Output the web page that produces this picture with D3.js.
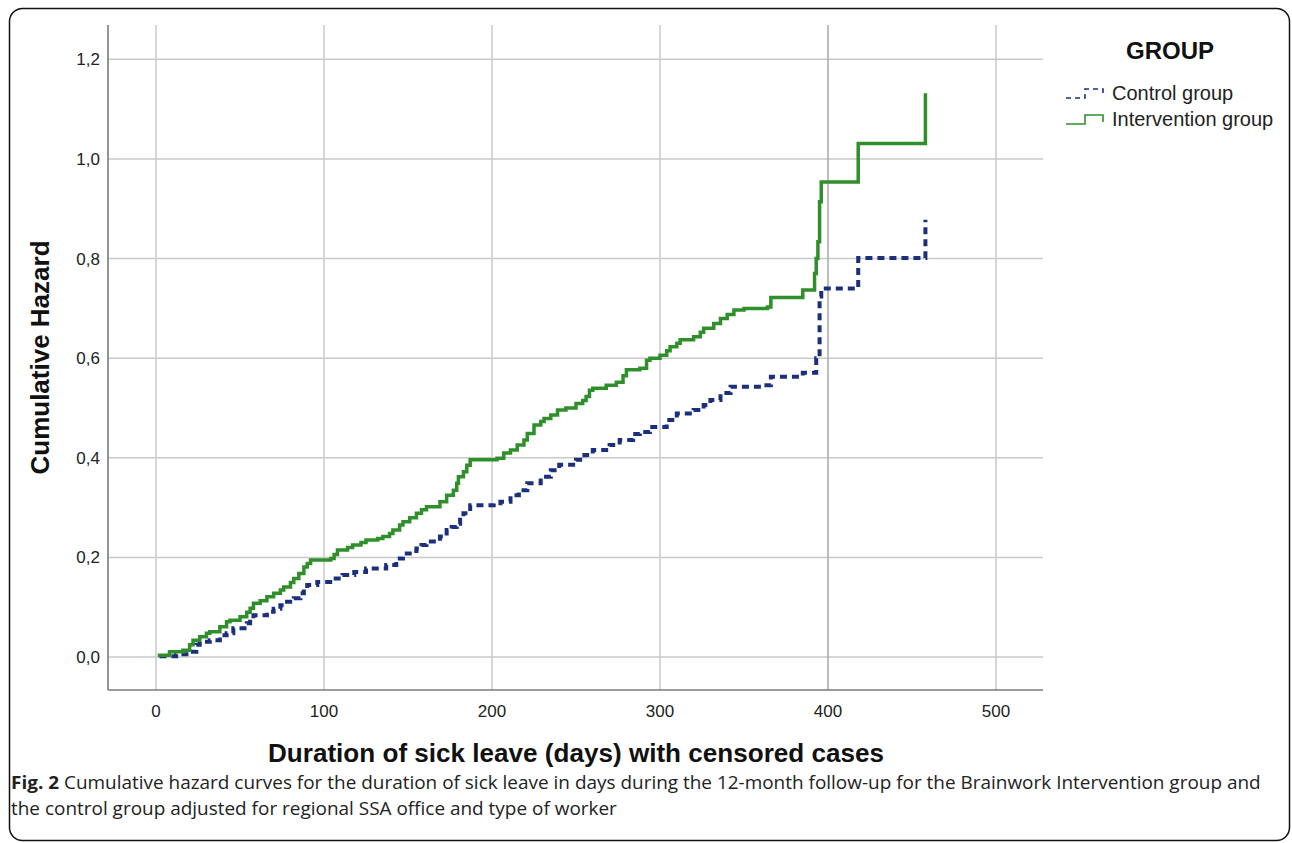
<!DOCTYPE html>
<html>

<head>
    <meta charset="utf-8">
    <style>
        body {
            margin: 0;
            background: #fff;
        }

        svg {
            display: block;
            font-family: Arial, "Liberation Sans", sans-serif;
        }

        .grid line {
            stroke: #c9c9c9;
            stroke-width: 1.5;
        }

        .tick-label {
            font-size: 17px;
            fill: #222;
        }

        .axis-title {
            font-size: 26px;
            font-weight: bold;
            fill: #111;
        }

        .legend-title {
            font-size: 24px;
            font-weight: bold;
            fill: #111;
        }

        .legend-label {
            font-size: 20px;
            fill: #222;
        }

        .caption {
            font-family: "Open Sans", sans-serif;
            font-size: 18px;
            fill: #222;
        }
    </style>
</head>

<body>
    <svg width="1292" height="843"></svg>

    <script src="https://d3js.org/d3.v7.min.js"></script>
    <script>
        // ---- data ----
        let xTicks = [0, 100, 200, 300, 400, 500]
        let yTicks = [0, 0.2, 0.4, 0.6, 0.8, 1.0, 1.2]

        let groups = ["Control group", "Intervention group"]

        // step points: day, cumulative hazard (value holds from that day on)
        let controlDays = [2, 12, 20, 24, 26, 32, 38, 42, 46, 54, 56, 58, 66, 70, 74, 78, 82, 86, 88, 90,
            96, 105, 111, 118, 125, 137, 143, 147, 151, 155, 158, 161, 169, 173, 176, 179, 181, 183, 187,
            201, 205, 211, 216, 221, 229, 235, 240, 250, 255, 260, 270, 276, 284, 288, 294, 304, 310,
            320, 326, 330, 336, 342, 361, 366, 385, 393, 395, 396, 418, 458]
        let controlHazard = [0.002, 0.006, 0.011, 0.025, 0.031, 0.034, 0.044, 0.048, 0.058, 0.068, 0.076,
            0.084, 0.091, 0.097, 0.104, 0.111, 0.118, 0.128, 0.136, 0.145,
            0.151, 0.158, 0.165, 0.171, 0.178, 0.185, 0.198, 0.208, 0.213, 0.218, 0.225, 0.232, 0.242,
            0.255, 0.261, 0.268, 0.280, 0.289, 0.305,
            0.309, 0.312, 0.325, 0.335, 0.349, 0.362, 0.375, 0.386, 0.396, 0.406, 0.416, 0.426, 0.436,
            0.448, 0.452, 0.462, 0.476, 0.489,
            0.496, 0.506, 0.516, 0.530, 0.543, 0.546, 0.563, 0.571, 0.600, 0.724, 0.740, 0.801, 0.878]

        let interventionDays = [1, 8, 16, 20, 22, 26, 30, 32, 38, 42, 44, 50, 54, 56, 58, 62, 66, 70, 74,
            76, 80, 82, 85, 88, 90, 92, 104, 106, 108, 114, 117, 122, 125, 132, 135, 139, 141, 145, 147,
            151, 155, 158, 161, 169, 173, 177, 179, 180, 183, 185, 187, 203, 207, 211, 215, 219, 221,
            225, 229, 231, 235, 239, 244, 250, 254, 256, 258, 260, 268, 274, 278, 280, 288, 292, 294,
            300, 304, 306, 310, 312, 320, 324, 326, 332, 336, 340, 344, 350, 364, 366, 385, 392, 393,
            394, 395, 396, 418, 458]
        let interventionHazard = [0.004, 0.011, 0.014, 0.025, 0.034, 0.041, 0.048, 0.051, 0.061, 0.071,
            0.074, 0.081, 0.090, 0.098, 0.108, 0.113, 0.121, 0.128, 0.135,
            0.141, 0.150, 0.158, 0.168, 0.181, 0.188, 0.195, 0.198, 0.206, 0.215, 0.220, 0.225, 0.230,
            0.235, 0.238, 0.242, 0.248, 0.255, 0.265, 0.272,
            0.280, 0.289, 0.296, 0.302, 0.312, 0.325, 0.335, 0.349, 0.362, 0.372, 0.385, 0.396, 0.399,
            0.410, 0.416, 0.426, 0.436, 0.449,
            0.466, 0.473, 0.479, 0.486, 0.496, 0.500, 0.509, 0.515, 0.523, 0.536, 0.540, 0.546, 0.552,
            0.565, 0.577, 0.580, 0.596, 0.600,
            0.606, 0.615, 0.623, 0.630, 0.637, 0.643, 0.652, 0.660, 0.670, 0.680, 0.688, 0.697, 0.700,
            0.703, 0.722, 0.737, 0.770, 0.800,
            0.834, 0.914, 0.954, 1.031, 1.132]

        let colors = ["#1c2f7c", "#2f8f2a"]

        // ---- layout ----
        let svg = d3.select("svg")

        let plot = { left: 108, right: 1043, top: 25, bottom: 690 }

        let x = d3.scaleLinear()
            .domain([-28.6, 528])
            .range([plot.left, plot.right])

        let y = d3.scaleLinear()
            .domain([-0.066, 1.269])
            .range([plot.bottom, plot.top])

        let commaFmt = d => d3.format(".1f")(d).replace(".", ",")

        // outer rounded frame
        svg.append("rect")
            .attr("x", 9.5)
            .attr("y", 8.5)
            .attr("width", 1280)
            .attr("height", 832)
            .attr("rx", 13)
            .attr("fill", "none")
            .attr("stroke", "#111")
            .attr("stroke-width", 1.5)

        // grid
        let grid = svg.append("g").attr("class", "grid")

        grid.selectAll(".hgrid")
            .data(yTicks)
            .join("line")
            .attr("x1", plot.left)
            .attr("x2", plot.right)
            .attr("y1", d => y(d))
            .attr("y2", d => y(d))

        grid.selectAll(".vgrid")
            .data(xTicks)
            .join("line")
            .attr("x1", d => x(d))
            .attr("x2", d => x(d))
            .attr("y1", plot.top)
            .attr("y2", plot.bottom)
            .style("stroke", d => d == 400 ? "#a8a8a8" : null)

        // axis lines (left + bottom only)
        svg.append("line")
            .attr("x1", plot.left).attr("x2", plot.left)
            .attr("y1", plot.top).attr("y2", plot.bottom)
            .style("stroke", "#7a7a7a")
            .style("stroke-width", 1.6)

        svg.append("line")
            .attr("x1", plot.left).attr("x2", plot.right)
            .attr("y1", plot.bottom).attr("y2", plot.bottom)
            .style("stroke", "#7a7a7a")
            .style("stroke-width", 1.6)

        // tick labels
        svg.append("g")
            .selectAll("text")
            .data(yTicks)
            .join("text")
            .attr("class", "tick-label")
            .attr("x", plot.left - 8)
            .attr("y", d => y(d) + 6)
            .attr("text-anchor", "end")
            .text(commaFmt)

        svg.append("g")
            .selectAll("text")
            .data(xTicks)
            .join("text")
            .attr("class", "tick-label")
            .attr("x", d => x(d))
            .attr("y", plot.bottom + 27)
            .attr("text-anchor", "middle")
            .text(d => d)

        // axis titles
        svg.append("text")
            .attr("class", "axis-title")
            .attr("transform", `translate(49, ${(plot.top + plot.bottom) / 2}) rotate(-90)`)
            .attr("text-anchor", "middle")
            .text("Cumulative Hazard")

        svg.append("text")
            .attr("class", "axis-title")
            .attr("x", 268)
            .attr("y", 762)
            .attr("textLength", 616)
            .attr("lengthAdjust", "spacingAndGlyphs")
            .text("Duration of sick leave (days) with censored cases")

        // curves
        let line = d3.line()
            .x(d => x(d[0]))
            .y(d => y(d[1]))
            .curve(d3.curveStepAfter)

        let series = [
            { name: groups[0], pts: d3.zip(controlDays, controlHazard), color: colors[0], dash: "7,5", width: 4 },
            { name: groups[1], pts: d3.zip(interventionDays, interventionHazard), color: colors[1], dash: null, width: 3.5 }
        ]

        svg.append("g")
            .selectAll("path")
            .data(series)
            .join("path")
            .attr("d", d => line(d.pts))
            .attr("fill", "none")
            .attr("stroke", d => d.color)
            .attr("stroke-width", d => d.width)
            .attr("stroke-dasharray", d => d.dash)

        // legend
        svg.append("text")
            .attr("class", "legend-title")
            .attr("x", 1170)
            .attr("y", 59)
            .attr("text-anchor", "middle")
            .text("GROUP")

        let legend = svg.append("g")
            .selectAll("g")
            .data(series)
            .join("g")
            .attr("transform", (d, i) => `translate(1066, ${99 + i * 26})`)

        legend.append("path")
            .attr("d", "M0,-1 H19 V-10 H37 V-3")
            .attr("fill", "none")
            .attr("stroke", d => d.color)
            .attr("stroke-width", 1.6)
            .attr("stroke-dasharray", d => d.dash ? "5,4" : null)

        legend.append("text")
            .attr("class", "legend-label")
            .attr("x", 46)
            .attr("y", 1)
            .text(d => d.name)

        // caption: a condensed look, same squeeze on both lines
        let cap = svg.append("g")

        let cap1 = cap.append("text")
            .attr("class", "caption")
            .attr("x", 0)
            .attr("y", 789)
        cap1.append("tspan")
            .style("font-weight", "bold")
            .text("Fig. 2")
        cap1.append("tspan")
            .text(" Cumulative hazard curves for the duration of sick leave in days during the 12-month follow-up for the Brainwork Intervention group and")

        cap.append("text")
            .attr("class", "caption")
            .attr("x", 0)
            .attr("y", 815)
            .text("the control group adjusted for regional SSA office and type of worker")

        let natural = cap1.node().getComputedTextLength()
        let sx = 1251 / natural
        cap.attr("transform", `translate(11,0) scale(${sx},1)`)
    </script>
</body>

</html>
